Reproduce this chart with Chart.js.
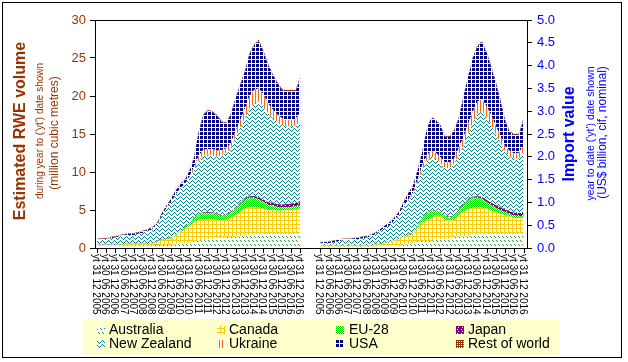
<!DOCTYPE html>
<html><head><meta charset="utf-8">
<script src="https://cdn.jsdelivr.net/npm/chart.js@4.4.1/dist/chart.umd.min.js"></script>
<style>html,body{margin:0;padding:0;background:#fff;}#wrap{width:628px;height:362px;position:relative;}</style>
</head><body><div id="wrap"><canvas id="c" width="628" height="362"></canvas></div>
<script>
const FONT = "'Liberation Sans', Arial, sans-serif";
const seriesNames = ['Australia','Canada','EU-28','Japan','New Zealand','Ukraine','USA','Rest of world'];

// x-axis tick labels (every 6 months); data points are quarterly from yt Dec 2005 to yt Dec 2016
const tickLabels = ["yt 31 12 2005","yt 30 06 2006","yt 31 12 2006","yt 30 06 2007","yt 31 12 2007","yt 30 06 2008","yt 31 12 2008","yt 30 06 2009","yt 31 12 2009","yt 30 06 2010","yt 31 12 2010","yt 30 06 2011","yt 31 12 2011","yt 30 06 2012","yt 31 12 2012","yt 30 06 2013","yt 31 12 2013","yt 30 06 2014","yt 31 12 2014","yt 30 06 2015","yt 31 12 2015","yt 30 06 2016","yt 31 12 2016"];

// Left panel: estimated RWE volume (million m3)
const volAustralia = [0.3,0.3,0.3,0.3,0.3,0.35,0.35,0.35,0.35,0.35,0.35,0.35,0.35,0.4,0.4,0.4,0.4,0.5,0.6,0.6,0.7,0.9,1.0,1.0,1.1,1.2,1.3,1.3,1.4,1.4,1.5,1.5,1.6,1.7,1.8,1.8,1.8,1.9,1.9,1.9,1.9,1.9,1.9,1.9,1.9];
const volCanada = [0.05,0.05,0.05,0.05,0.05,0.05,0.15,0.15,0.15,0.15,0.15,0.15,0.15,0.4,0.6,0.7,0.8,1.1,1.4,1.9,2.2,2.5,2.7,2.8,2.7,2.6,2.4,2.3,2.3,2.6,2.8,3.3,3.6,3.7,3.6,3.5,3.4,3.1,3.1,3.0,3.0,3.1,3.1,3.2,3.3];
const volEU28 = [0.05,0.05,0.05,0.05,0.05,0.05,0.05,0.05,0.05,0.05,0.05,0.05,0.05,0.1,0.1,0.1,0.1,0.1,0.1,0.2,0.3,0.5,0.7,0.8,0.8,0.8,0.7,0.6,0.6,0.7,0.9,1.0,1.2,1.2,1.2,1.1,0.9,0.7,0.6,0.5,0.4,0.4,0.4,0.4,0.4];
const volJapan = [0.02,0.02,0.02,0.03,0.03,0.03,0.03,0.03,0.04,0.04,0.04,0.04,0.05,0.05,0.05,0.05,0.05,0.05,0.06,0.06,0.07,0.08,0.09,0.1,0.1,0.1,0.1,0.11,0.12,0.13,0.15,0.16,0.18,0.22,0.25,0.27,0.28,0.32,0.35,0.38,0.4,0.4,0.42,0.42,0.42];
const volNewZealand = [0.65,0.65,0.75,0.85,0.95,1.05,1.0,1.1,1.1,1.3,1.4,1.6,1.9,2.15,3.05,3.95,4.65,5.25,5.65,5.55,5.95,6.3,7.0,7.5,7.6,7.5,7.5,7.9,8.1,8.35,9.25,9.85,10.45,11.55,12.15,12.55,12.25,11.7,11.1,10.8,10.5,10.2,10.2,10.2,10.6];
const volUkraine = [0,0,0,0,0,0,0,0,0,0,0,0,0,0,0,0,0,0,0.05,0.1,0.2,0.4,0.6,0.7,0.7,0.8,0.8,0.7,0.6,0.6,0.8,1.0,1.3,1.6,1.8,1.8,1.6,1.3,1.2,1.0,0.9,0.8,0.8,0.9,1.2];
const volUSA = [0.05,0.1,0.05,0.1,0.1,0.1,0.2,0.2,0.2,0.1,0.2,0.2,0.2,0.2,0.3,0.3,0.4,0.5,0.45,0.5,0.7,1.15,3.15,4.55,5.05,4.85,4.55,3.65,3.25,3.85,4.25,4.65,4.85,5.55,5.85,6.2,5.6,5.1,4.5,4.1,3.7,3.8,3.8,3.6,4.6];
const volRest = [0.1,0.1,0.1,0.1,0.1,0.1,0.1,0.1,0.1,0.1,0.1,0.1,0.1,0.1,0.1,0.1,0.1,0.1,0.1,0.1,0.1,0.15,0.15,0.15,0.15,0.15,0.15,0.15,0.15,0.15,0.15,0.15,0.15,0.15,0.15,0.2,0.2,0.2,0.2,0.2,0.2,0.2,0.2,0.2,0.2];

// Right panel: import value (US$ billion)
const valAustralia = [0.02,0.02,0.02,0.02,0.02,0.02,0.02,0.02,0.02,0.02,0.02,0.02,0.02,0.05,0.05,0.05,0.05,0.05,0.08,0.08,0.08,0.15,0.15,0.15,0.15,0.2,0.2,0.2,0.2,0.25,0.25,0.25,0.25,0.3,0.3,0.3,0.3,0.32,0.32,0.32,0.32,0.32,0.32,0.32,0.32];
const valCanada = [0.02,0.02,0.02,0.02,0.02,0.02,0.02,0.02,0.02,0.02,0.02,0.02,0.04,0.03,0.05,0.07,0.1,0.15,0.16,0.18,0.22,0.25,0.4,0.47,0.5,0.52,0.5,0.42,0.4,0.37,0.47,0.55,0.6,0.58,0.58,0.58,0.56,0.5,0.46,0.43,0.4,0.37,0.34,0.33,0.33];
const valEU28 = [0.01,0.01,0.01,0.01,0.01,0.01,0.01,0.01,0.01,0.01,0.01,0.01,0.01,0.01,0.01,0.01,0.01,0.01,0.01,0.02,0.03,0.05,0.1,0.13,0.15,0.1,0.08,0.07,0.07,0.08,0.11,0.15,0.2,0.22,0.22,0.2,0.15,0.12,0.1,0.08,0.07,0.05,0.05,0.05,0.05];
const valJapan = [0.003,0.003,0.003,0.003,0.004,0.004,0.004,0.004,0.005,0.005,0.005,0.005,0.005,0.006,0.006,0.006,0.007,0.007,0.008,0.008,0.009,0.01,0.01,0.01,0.01,0.01,0.012,0.012,0.014,0.016,0.018,0.02,0.025,0.03,0.035,0.04,0.045,0.05,0.055,0.06,0.06,0.065,0.065,0.07,0.07];
const valNewZealand = [0.045,0.045,0.055,0.075,0.095,0.115,0.115,0.125,0.135,0.155,0.175,0.205,0.235,0.285,0.335,0.365,0.435,0.505,0.645,0.735,0.815,0.94,1.04,1.14,1.19,1.12,1.06,1.05,1.07,1.13,1.2,1.28,1.43,1.61,1.81,1.88,1.8,1.7,1.56,1.41,1.25,1.2,1.18,1.19,1.34];
const valUkraine = [0,0,0,0,0,0,0,0,0,0,0,0,0,0,0,0,0,0,0.02,0.03,0.05,0.08,0.1,0.12,0.13,0.14,0.14,0.13,0.12,0.12,0.15,0.18,0.22,0.25,0.27,0.27,0.25,0.22,0.18,0.15,0.13,0.12,0.12,0.13,0.15];
const valUSA = [0.03,0.03,0.03,0.03,0.03,0.03,0.03,0.03,0.03,0.03,0.03,0.03,0.03,0.03,0.04,0.06,0.06,0.07,0.07,0.14,0.14,0.2,0.28,0.56,0.73,0.71,0.69,0.55,0.56,0.61,0.66,0.9,1.03,1.17,1.2,1.24,1.17,1.05,0.94,0.77,0.56,0.4,0.4,0.39,0.57];
const valRest = [0.01,0.01,0.01,0.01,0.01,0.01,0.01,0.01,0.01,0.01,0.01,0.01,0.01,0.01,0.01,0.01,0.01,0.01,0.02,0.02,0.02,0.02,0.02,0.02,0.02,0.02,0.02,0.02,0.02,0.02,0.02,0.02,0.02,0.03,0.03,0.03,0.03,0.03,0.03,0.03,0.03,0.03,0.03,0.03,0.03];

const volSeries = [volAustralia, volCanada, volEU28, volJapan, volNewZealand, volUkraine, volUSA, volRest];
const valSeries = [valAustralia, valCanada, valEU28, valJapan, valNewZealand, valUkraine, valUSA, valRest];

// ---------- patterns ----------
const patternDefs = [
  {fg:'#2f8f3f', rows:['X...X...','.X...X..','........','........','..X...X.','...X...X','........','........']},
  {fg:'#FFCC00', rows:['XXXX','X...','X...','X...']},
  {fg:'#00E600', rows:['X.','.X']},
  {fg:'#800080', rows:['XXXX','X.XX','XXXX','XX.X']},
  {fg:'#008080', rows:['X.....','.X...X','..X.X.','...X..']},
  {fg:'#FF6600', rows:['X..']},
  {fg:'#000080', rows:['XXX.','XXX.','XXX.','....']},
  {fg:'#993300', rows:['XX','X.']}
];
function makePattern(def){
  const h = def.rows.length, w = def.rows[0].length;
  const t = document.createElement('canvas'); t.width = w; t.height = h;
  const c = t.getContext('2d');
  c.fillStyle = '#ffffff'; c.fillRect(0,0,w,h);
  c.fillStyle = def.fg;
  for (let y=0;y<h;y++) for (let x=0;x<w;x++) if (def.rows[y][x]==='X') c.fillRect(x,y,1,1);
  return c.createPattern(t,'repeat');
}
const ctx0 = document.getElementById('c').getContext('2d');
const patterns = patternDefs.map(makePattern);

// ---------- datasets ----------
const RIGHT_OFFSET = 145; // months between left and right panels on the shared x axis
function buildSet(series, axis, offset){
  return series.map((arr,k)=>({
    label: seriesNames[k],
    data: arr.map((v,i)=>({x: offset + 3*i, y: v})),
    yAxisID: axis,
    fill: k===0 ? 'origin' : '-1',
    backgroundColor: patterns[k],
    borderWidth: 0,
    pointRadius: 0,
    tension: 0
  }));
}
const datasets = buildSet(volSeries,'y',0).concat(buildSet(valSeries,'y1',RIGHT_OFFSET));

function vtext(ctx, text, x, y, font, color){
  ctx.save(); ctx.translate(x,y); ctx.rotate(-Math.PI/2);
  ctx.font = font; ctx.fillStyle = color; ctx.textAlign='center'; ctx.textBaseline='middle';
  ctx.fillText(text,0,0); ctx.restore();
}

const decor = {
  id:'decor',
  afterDraw(chart){
    const ctx = chart.ctx, ca = chart.chartArea, xs = chart.scales.x;
    ctx.save();
    // plot frame
    ctx.strokeStyle='#000'; ctx.lineWidth=1;
    ctx.strokeRect(Math.round(ca.left)+0.5, Math.round(ca.top)+0.5, Math.round(ca.right-ca.left), Math.round(ca.bottom-ca.top));
    // x ticks + labels
    ctx.font = "10px " + FONT; ctx.fillStyle='#000';
    [0, RIGHT_OFFSET].forEach(off=>{
      tickLabels.forEach((lab,k)=>{
        const x = Math.round(xs.getPixelForValue(off + 6*k));
        ctx.beginPath(); ctx.moveTo(x+0.5, ca.bottom); ctx.lineTo(x+0.5, ca.bottom+5); ctx.stroke();
        ctx.save(); ctx.translate(x-1.5, ca.bottom+6); ctx.rotate(Math.PI/2);
        ctx.textAlign='left'; ctx.textBaseline='middle'; ctx.fillText(lab,0,0); ctx.restore();
      });
    });
    // axis titles
    vtext(ctx,'Estimated RWE volume',20.5,131,'bold 16px '+FONT,'#993300');
    vtext(ctx,"during year to ('yt') date shown",40,131,'10px '+FONT,'#993300');
    vtext(ctx,'(million cubic metres)',55,133,'12px '+FONT,'#993300');
    vtext(ctx,'Import value',570,134,'bold 16px '+FONT,'#0000FF');
    vtext(ctx,"year to date ('yt') date shown",591,133.5,'10.5px '+FONT,'#0000FF');
    vtext(ctx,'(US$ billion, cif, nominal)',603,132.5,'12px '+FONT,'#0000FF');
    // legend
    ctx.fillStyle='#FFFFCC'; ctx.fillRect(83,319,477,36);
    const iconX=[97,217,336,456], textX=[109,229,349,468], rowY=[329.5,344];
    ctx.font='14px '+FONT; ctx.textAlign='left'; ctx.textBaseline='middle';
    seriesNames.forEach((n,k)=>{
      const col=k%4, row=Math.floor(k/4);
      ctx.fillStyle=patterns[k]; ctx.fillRect(iconX[col], Math.round(rowY[row])-4, 8, 8);
      ctx.fillStyle='#000'; ctx.fillText(n, textX[col], rowY[row]+0.5);
    });
    // outer border
    ctx.strokeStyle='#000'; ctx.lineWidth=1;
    ctx.strokeRect(2.5,2.5,619,355);
    ctx.restore();
  }
};

Chart.defaults.font.family = FONT;
new Chart(ctx0, {
  type:'line',
  data:{datasets},
  options:{
    responsive:false, animation:false,
    layout:{padding:{top:20,left:0,right:0,bottom:0}},
    plugins:{legend:{display:false}, tooltip:{enabled:false}},
    elements:{line:{borderWidth:0}},
    scales:{
      x:{type:'linear', min:-1.3, max:279.2, ticks:{display:false}, grid:{display:false}, border:{display:false},
         afterFit(s){ s.height = 114; }},
      y:{type:'linear', position:'left', stacked:true, min:0, max:30,
         ticks:{stepSize:5, color:'#993300', font:{size:13}, padding:4},
         grid:{drawOnChartArea:false, drawTicks:true, tickLength:5, tickColor:'#000'}, border:{display:false},
         afterFit(s){ s.width = 95; }},
      y1:{type:'linear', position:'right', stacked:true, min:0, max:5,
         ticks:{stepSize:0.5, color:'#0000FF', font:{size:13}, padding:5, callback:v=>Number(v).toFixed(1)},
         grid:{drawOnChartArea:false, drawTicks:true, tickLength:5, tickColor:'#000'}, border:{display:false},
         afterFit(s){ s.width = 101; }}
    }
  },
  plugins:[decor]
});
</script></body></html>
